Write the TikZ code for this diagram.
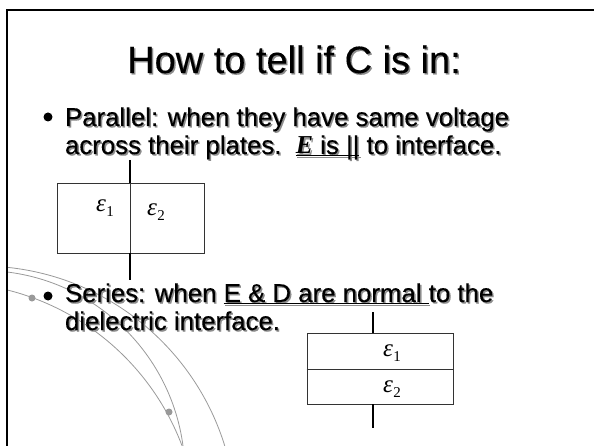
\documentclass[tikz,border=0pt]{standalone}
\usepackage{fontspec}
\setmainfont{Liberation Sans}
\newfontfamily\bodyf{Liberation Sans}[FakeBold=0.3]
\newfontfamily\tnr{Liberation Serif}
\definecolor{shadowgray}{gray}{0.55}
\definecolor{arcgray}{gray}{0.6}
\newcommand\shtxt[4]{%
  \node[txt,text=shadowgray,#3] (#1s) at ([shift={(1.5,1.5)}]#2) {#4};
  \node[txt,#3] (#1) at (#2) {#4};}
\newcommand\ulx[1]{\underline{\smash{#1}}}
\newcommand\epsx[1]{{\tnr\itshape ε}\kern0.5pt\raisebox{-5pt}{\fontsize{15}{15}\selectfont\tnr #1}}
\begin{document}
\begin{tikzpicture}[x=1pt,y=-1pt,
  txt/.style={inner sep=0pt,outer sep=0pt},
  body/.style={font=\bodyf\fontsize{25.8}{30}\selectfont,anchor=base west},
  titlefont/.style={font=\bodyf\fontsize{38}{44}\selectfont,anchor=base},
  boxline/.style={draw=black!80,line width=0.9pt},
  lead/.style={draw=black,line width=2pt},
  eps/.style={inner sep=0pt,font=\fontsize{25}{28}\selectfont},
  arc/.style={draw=arcgray,line width=0.8pt},
  bul/.style={circle,fill=black,inner sep=0pt,minimum size=9pt},
  gdot/.style={circle,fill=arcgray,inner sep=0pt,minimum size=7pt}]
\useasboundingbox (0,0) rectangle (594,446);
% decorative arcs
\begin{scope}
  \clip (7,0) rectangle (594,446);
  \draw[arc] (-19,521) circle (255pt);
  \draw[arc] (-17.6,472.9) circle (202.4pt);
  \draw[arc] (-53.9,534.5) circle (252pt);
\end{scope}
\node[gdot] (d1) at (32,298) {};
\node[gdot] (d2) at (169,412) {};
% frame
\draw[line width=1.4pt] (594,10) -- (7,10) -- (7,446);
% title
\shtxt{title}{294,73}{titlefont}{How to tell if C is in:}
% parallel text
\node[bul] (b1) at (48,117) {};
\shtxt{p1}{65,126}{body}{Parallel: when they have same voltage}
\shtxt{p2}{65,154}{body}{across their plates.\ \ \ulx{{\tnr\bfseries\itshape E}\/ is ||} to interface.}
% parallel capacitor
\coordinate (pt) at (130,160);
\coordinate (pb) at (130,280);
\node[boxline,rectangle,inner sep=0pt,minimum width=147pt,minimum height=70pt] (pbox) at (130.5,218) {};
\draw[boxline] (pbox.north -| pt) -- (pbox.south -| pt);
\draw[lead] (pt) -- (pbox.north -| pt);
\draw[lead] (pbox.south -| pb) -- (pb);
\node[eps] (pe1) at (105,208) {\epsx{1}};
\node[eps] (pe2) at (156,212) {\epsx{2}};
% series text
\node[bul] (b2) at (48,296) {};
\shtxt{s1}{65,302}{body}{Series: when \ulx{E \& D are normal }to the}
\shtxt{s2}{65,330}{body}{dielectric interface.}
% series capacitor
\coordinate (st) at (373,312);
\coordinate (sb) at (373,428);
\node[boxline,rectangle,inner sep=0pt,minimum width=146pt,minimum height=71pt] (sbox) at (380,368.5) {};
\draw[boxline] (sbox.west |- 0,369) -- (sbox.east |- 0,369);
\draw[lead] (st) -- (sbox.north -| st);
\draw[lead] (sbox.south -| sb) -- (sb);
\node[eps] (se1) at (392,353) {\epsx{1}};
\node[eps] (se2) at (392,389) {\epsx{2}};
\end{tikzpicture}
\end{document}
